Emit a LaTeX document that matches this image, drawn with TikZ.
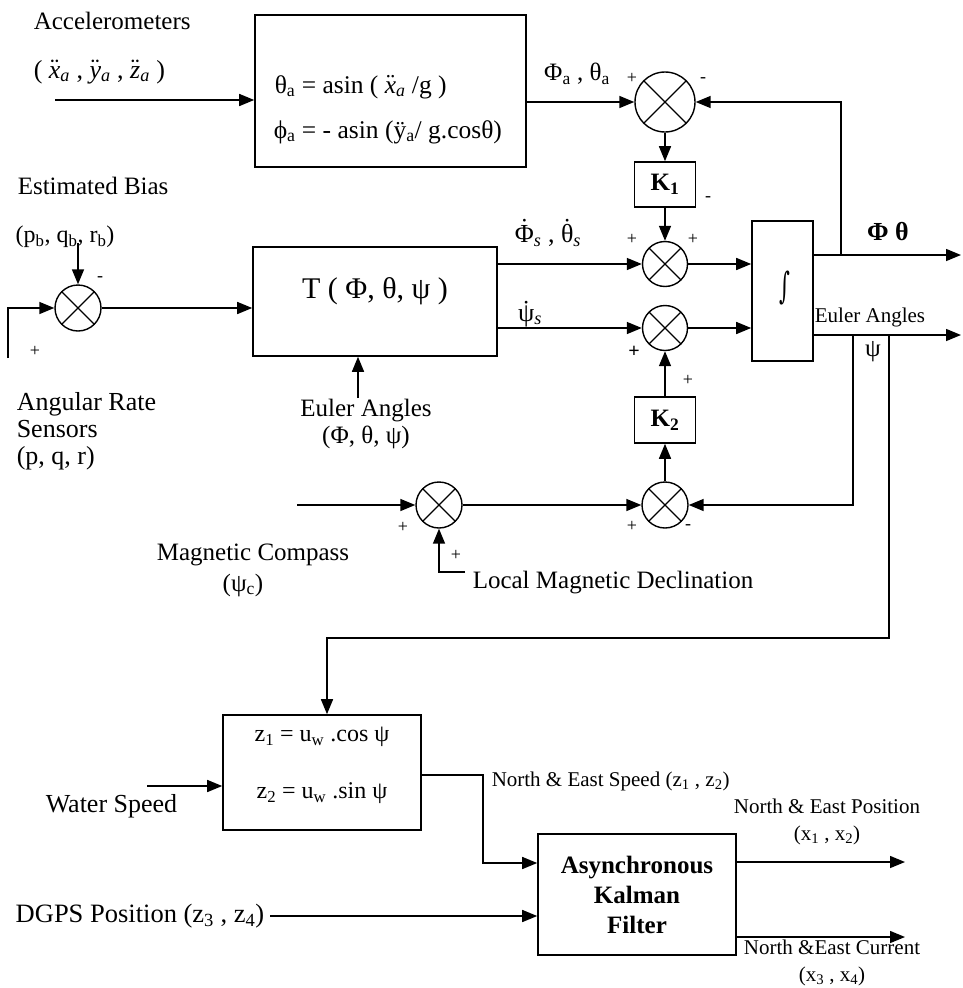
\documentclass[tikz,border=0pt]{standalone}
\usepackage{fontspec}
\setmainfont{Liberation Serif}
\newfontfamily\djv{DejaVu Serif}
\usetikzlibrary{arrows.meta,calc}
\newcommand\ddt[2][0.05em]{{\setbox0\hbox{#2}\leavevmode\rlap{\hbox to\wd0{\hss\raisebox{#1}{¨}\hss}}\box0}}
\newcommand\sdt[2][0.25em]{{\setbox0\hbox{#2}\leavevmode\rlap{\hbox to\wd0{\hss\raisebox{#1}{˙}\hss}}\box0}}
\newcommand\isub[1]{\textsubscript{\textit{#1}}}
\begin{document}
\begin{tikzpicture}[x=1pt,y=-1pt,
 line width=1.5pt,
 arr/.style={-{Triangle[length=15pt,width=12pt]}},
 blk/.style={draw,line width=1.6pt,inner sep=0pt},
 sumj/.style={circle,draw,line width=1.4pt,minimum size=#1,inner sep=0pt,
   path picture={\draw[line width=1.2pt]
     (path picture bounding box.north west)--(path picture bounding box.south east)
     (path picture bounding box.north east)--(path picture bounding box.south west);}},
 big/.style={font=\fontsize{25}{28}\selectfont,inner sep=0pt},
 form/.style={font=\fontsize{25.5}{28}\selectfont,inner sep=0pt},
 mid/.style={font=\fontsize{24}{26}\selectfont,inner sep=0pt},
 small/.style={font=\fontsize{21}{27}\selectfont,inner sep=0pt},
 sgn/.style={font=\fontsize{18}{18}\selectfont,inner sep=0pt}]
\useasboundingbox[fill=white] (0,0) rectangle (963,988);

% ---------- blocks ----------
\node[blk,minimum width=271pt,minimum height=152pt] (acc) at (390.5,91) {};
\node[blk,minimum width=244pt,minimum height=109pt] (T) at (375,301.5) {};
\node[blk,minimum width=61pt,minimum height=140pt] (I) at (782.5,291) {};
\node[blk,minimum width=61pt,minimum height=45pt,font=\fontsize{25}{28}\selectfont\bfseries] (K1) at (665,184.5) {K\textsubscript{1}};
\node[blk,minimum width=61pt,minimum height=46pt,font=\fontsize{25}{28}\selectfont\bfseries] (K2) at (665,420) {K\textsubscript{2}};
\node[blk,minimum width=198pt,minimum height=115pt] (Z) at (322,772.5) {};
\node[blk,minimum width=198pt,minimum height=121pt,align=center,font=\fontsize{25}{30}\selectfont\bfseries] (KF) at (637,894.5) {Asynchronous\\Kalman\\Filter};

% ---------- summing junctions ----------
\node[sumj=60pt] (s1) at (665,102) {};
\node[sumj=45pt] (s2) at (665,264) {};
\node[sumj=45pt] (s3) at (665,328) {};
\node[sumj=46pt] (s0) at (78,308) {};
\node[sumj=46pt] (s4) at (439,505) {};
\node[sumj=46pt] (s5) at (665,505) {};

% ---------- free coordinates ----------
\coordinate (accin) at (55,100);
\coordinate (bin) at (78,243);
\coordinate (rin) at (8,358);
\coordinate (ein) at (358,398);
\coordinate (out1) at (961,255);
\coordinate (out2) at (961,335);
\coordinate (fb1) at (841,255);
\coordinate (fb2) at (853,335);
\coordinate (fb3) at (889,335);
\coordinate (zt) at (327,638);
\coordinate (cin) at (297,505);
\coordinate (dec) at (465,572);
\coordinate (win) at (147,786);
\coordinate (zo) at (483,775);
\coordinate (gin) at (270,916);
\coordinate (ko1) at (905,862);
\coordinate (ko2) at (905,937);

% ---------- connectors ----------
\draw[arr] (accin) -- (accin -| acc.west);
\draw[arr] (s1.west -| acc.east) -- (s1.west);
\draw[arr] (fb1) |- (s1.east);
\draw[arr] (s1.south) -- (K1.north);
\draw[arr] (K1.south) -- (s2.north);
\draw[arr] (s2.west -| T.east) -- (s2.west);
\draw[arr] (s3.west -| T.east) -- (s3.west);
\draw[arr] (s2.east) -- (s2.east -| I.west);
\draw[arr] (s3.east) -- (s3.east -| I.west);
\draw[arr] (out1 -| I.east) -- (out1);
\draw[arr] (out2 -| I.east) -- (out2);
\draw[arr] (K2.north) -- (s3.south);
\draw[arr] (s5.north) -- (K2.south);
\draw[arr] (fb2) |- (s5.east);
\draw[arr] (s4.east) -- (s5.west);
\draw[arr] (cin) -- (s4.west);
\draw[arr] (dec) -| (s4.south);
\draw[arr] (bin) -- (s0.north);
\draw[arr] (rin) |- (s0.west);
\draw[arr] (s0.east) -- (s0.east -| T.west);
\draw[arr] (ein) -- (ein |- T.south);
\draw[arr] (fb3) |- (zt) -- (zt |- Z.north);
\draw[arr] (win) -- (win -| Z.west);
\draw[arr] (zo -| Z.east) -- (zo) |- ([yshift=31.5pt]KF.west);
\draw[arr] (gin) -- (gin -| KF.west);
\draw[arr] (ko1 -| KF.east) -- (ko1);
\draw[arr] (ko2 -| KF.east) -- (ko2);

% ---------- labels ----------
\node[big,anchor=west] (tacc) at (33,21) {Accelerometers};
\node[big,anchor=west,font=\fontsize{26}{28}\selectfont] (tacc2) at (33,72) {( \ddt{\textit{x}}\isub{a} , \ddt{\textit{y}}\isub{a} , \ddt{\textit{z}}\isub{a} )};
\node[form,anchor=west] (f1) at (274,87) {θ\textsubscript{a} = asin ( \ddt{\textit{x}}\isub{a} /g )};
\node[form,anchor=west] (f2) at (273,132) {ϕ\textsubscript{a} = - asin (ÿ\textsubscript{a}/ g.cosθ)};
\node[big] (la) at (577,74) {Φ\textsubscript{a} , θ\textsubscript{a}};
\node[sgn] (p1) at (632,78) {+};
\node[sgn] (m1) at (703,80) {-};
\node[sgn] (mk1) at (708,199) {-};
\node[font=\fontsize{26}{28}\selectfont,inner sep=0pt] (ls) at (548,233) {\sdt{Φ}\isub{s} , \sdt{θ}\isub{s}};
\node[sgn] (p2) at (632,239) {+};
\node[sgn] (p3) at (693,239) {+};
\node[font=\fontsize{26}{28}\selectfont,inner sep=0pt] (lp) at (530,314) {\sdt[0.1em]{ψ}\isub{s}};
\node[sgn,font=\fontsize{20}{20}\selectfont\bfseries] (p4) at (634,352) {+};
\node[sgn] (p5) at (688,380) {+};
\node[font=\fontsize{30}{32}\selectfont,inner sep=0pt] (tt) at (375,291) {T ( Φ, θ, ψ )};
\node[font=\fontsize{26}{30}\selectfont\djv,inner sep=0pt] (int) at (785,288) {\scalebox{0.8}[1.4]{∫}};
\node[font=\fontsize{26}{28}\selectfont\bfseries,inner sep=0pt] (lpt) at (888,232) {Φ θ};
\node[small] (le) at (870,317) {Euler Angles};
\node[big] (lpsi) at (873,352) {ψ};
\node[big,anchor=west] (tbias) at (17,186) {Estimated Bias};
\node[font=\fontsize{24}{26}\selectfont,inner sep=0pt,anchor=west] (tb2) at (15,237) {(p\textsubscript{b}, q\textsubscript{b}, r\textsubscript{b})};
\node[sgn] (mb) at (100,279) {-};
\node[sgn] (pb) at (35,351) {+};
\node[anchor=north west,align=left,font=\fontsize{26}{27}\selectfont,inner sep=0pt] (tars) at (16,392) {Angular Rate\\Sensors\\(p, q, r)};
\node[align=center,anchor=north,font=\fontsize{25}{27}\selectfont,inner sep=0pt] (teu) at (366,398) {Euler Angles\\(Φ, θ, ψ)};
\node[sgn] (p6) at (403,527) {+};
\node[sgn] (p7) at (456,555) {+};
\node[big,anchor=west] (tdec) at (472,583) {Local Magnetic Declination};
\node[sgn] (p8) at (632,526) {+};
\node[sgn] (m8) at (688,527) {-};
\node[big] (tmc) at (253,555) {Magnetic Compass};
\node[big] (tmc2) at (243,585) {(ψ\textsubscript{c})};
\node[mid] (z1) at (322,737) {z\textsubscript{1} = u\textsubscript{w} .cos ψ};
\node[mid] (z2) at (322,793) {z\textsubscript{2} = u\textsubscript{w} .sin ψ};
\node[font=\fontsize{26}{28}\selectfont,inner sep=0pt,anchor=west] (tws) at (45,806) {Water Speed};
\node[small,anchor=west] (tns) at (491,781) {North \& East Speed (z\textsubscript{1} , z\textsubscript{2})};
\node[small,align=center] (tnp) at (827,822) {North \& East Position\\(x\textsubscript{1} , x\textsubscript{2})};
\node[font=\fontsize{26.5}{28}\selectfont,inner sep=0pt,anchor=west] (tdg) at (15,916) {DGPS Position (z\textsubscript{3} , z\textsubscript{4})};
\node[small,align=center] (tnc) at (832,963) {North \&East Current\\(x\textsubscript{3} , x\textsubscript{4})};
\end{tikzpicture}
\end{document}
